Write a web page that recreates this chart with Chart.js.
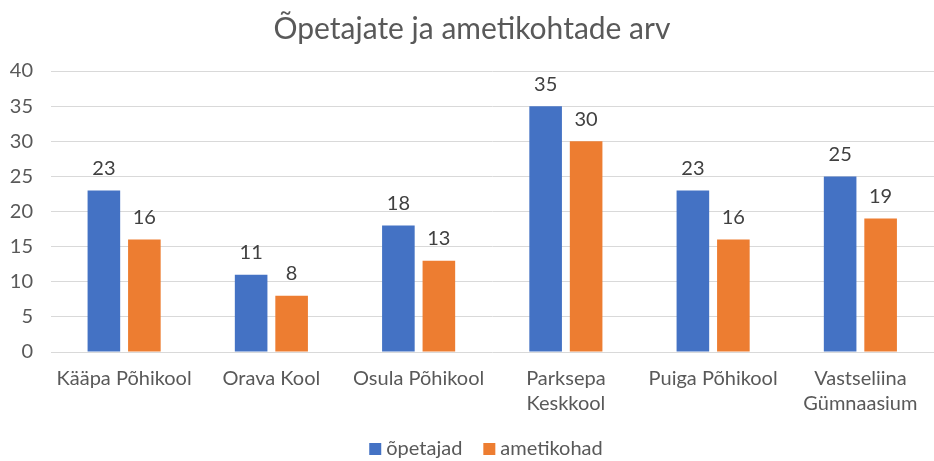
<!DOCTYPE html>
<html>
<head>
<meta charset="utf-8">
<script src="https://cdn.jsdelivr.net/npm/chart.js@4/dist/chart.umd.min.js"></script>
<style>
  html, body { margin: 0; padding: 0; background: #fff; }
  #wrap { width: 934px; height: 461px; }
</style>
</head>
<body>
<div id="wrap"><canvas id="chart" width="934" height="461"></canvas></div>
<script>
// andmed
var koolid = [
  "Kääpa Põhikool",
  "Orava Kool",
  "Osula Põhikool",
  ["Parksepa", "Keskkool"],
  "Puiga Põhikool",
  ["Vastseliina", "Gümnaasium"]
];
var opetajad = [23, 11, 18, 35, 23, 25];
var ametikohad = [16, 8, 13, 30, 16, 19];
var yTicks = [0, 5, 10, 15, 20, 25, 30, 35, 40];

var fontFamily = "Lato, 'Open Sans', sans-serif";
var tekstiSuurus = 20;

// väärtused tulpade kohale
var vaartusedPlugin = {
  id: "vaartused",
  afterDatasetsDraw: function(chart) {
    var ctx = chart.ctx;
    ctx.save();
    ctx.font = tekstiSuurus + "px " + fontFamily;
    ctx.fillStyle = "#404040";
    ctx.textAlign = "center";
    ctx.textBaseline = "middle";
    chart.data.datasets.forEach(function(ds, i) {
      var meta = chart.getDatasetMeta(i);
      meta.data.forEach(function(bar, j) {
        ctx.fillText(ds.data[j], bar.x, bar.y - 22);
      });
    });
    ctx.restore();
  }
};

// legend all, käsitsi et vahed oleks nagu Excelis
var legendPlugin = {
  id: "legendAll",
  afterDraw: function(chart) {
    var ctx = chart.ctx;
    var kast = 12, vahe = 5, itemVahe = 21;
    ctx.save();
    ctx.font = tekstiSuurus + "px " + fontFamily;
    ctx.textBaseline = "middle";
    ctx.textAlign = "left";
    var laiused = chart.data.datasets.map(function(ds) {
      return kast + vahe + ctx.measureText(ds.label).width;
    });
    var kokku = laiused.reduce(function(a, b) { return a + b; }, 0) + itemVahe * (laiused.length - 1);
    var x = 486 - kokku / 2;
    var y = 449;
    chart.data.datasets.forEach(function(ds, i) {
      ctx.fillStyle = ds.backgroundColor;
      ctx.fillRect(x, y - kast / 2, kast, kast);
      ctx.fillStyle = "#595959";
      ctx.fillText(ds.label, x + kast + vahe, y);
      x += laiused[i] + itemVahe;
    });
    ctx.restore();
  }
};

var ctx = document.getElementById("chart");
var chartGraph = new Chart(ctx, {
  type: "bar",
  data: {
    labels: koolid,
    datasets: [{
      label: "õpetajad",
      data: opetajad,
      backgroundColor: "#4472C4"
    }, {
      label: "ametikohad",
      data: ametikohad,
      backgroundColor: "#ED7D31"
    }]
  },
  options: {
    responsive: false,
    devicePixelRatio: 1,
    animation: false,
    categoryPercentage: 0.55,
    barPercentage: 0.805,
    // joonis on paremalt ära lõigatud, seepärast negatiivne parem serv
    layout: { padding: { left: 0, right: -10, top: 11, bottom: 39 } },
    plugins: {
      title: {
        display: true,
        text: "Õpetajate ja ametikohtade arv",
        color: "#595959",
        font: { family: fontFamily, size: 30, weight: "normal" },
        padding: { top: 0, bottom: 24 }
      },
      legend: { display: false },
      tooltip: { enabled: false }
    },
    scales: {
      x: {
        grid: { display: false },
        border: { display: false },
        ticks: {
          color: "#595959",
          font: { family: fontFamily, size: tekstiSuurus, lineHeight: 1.25 },
          maxRotation: 0,
          autoSkip: false,
          padding: 6
        }
      },
      y: {
        min: 0,
        max: 40,
        afterBuildTicks: function(axis) {
          axis.ticks = yTicks.map(function(v) { return { value: v }; });
        },
        afterFit: function(scale) {
          scale.width = 50.5;
        },
        grid: { color: "#D9D9D9", lineWidth: 1, drawTicks: false },
        border: { display: false },
        ticks: {
          color: "#595959",
          font: { family: fontFamily, size: tekstiSuurus },
          padding: 17.5
        }
      }
    }
  },
  plugins: [vaartusedPlugin, legendPlugin]
});
</script>
</body>
</html>
